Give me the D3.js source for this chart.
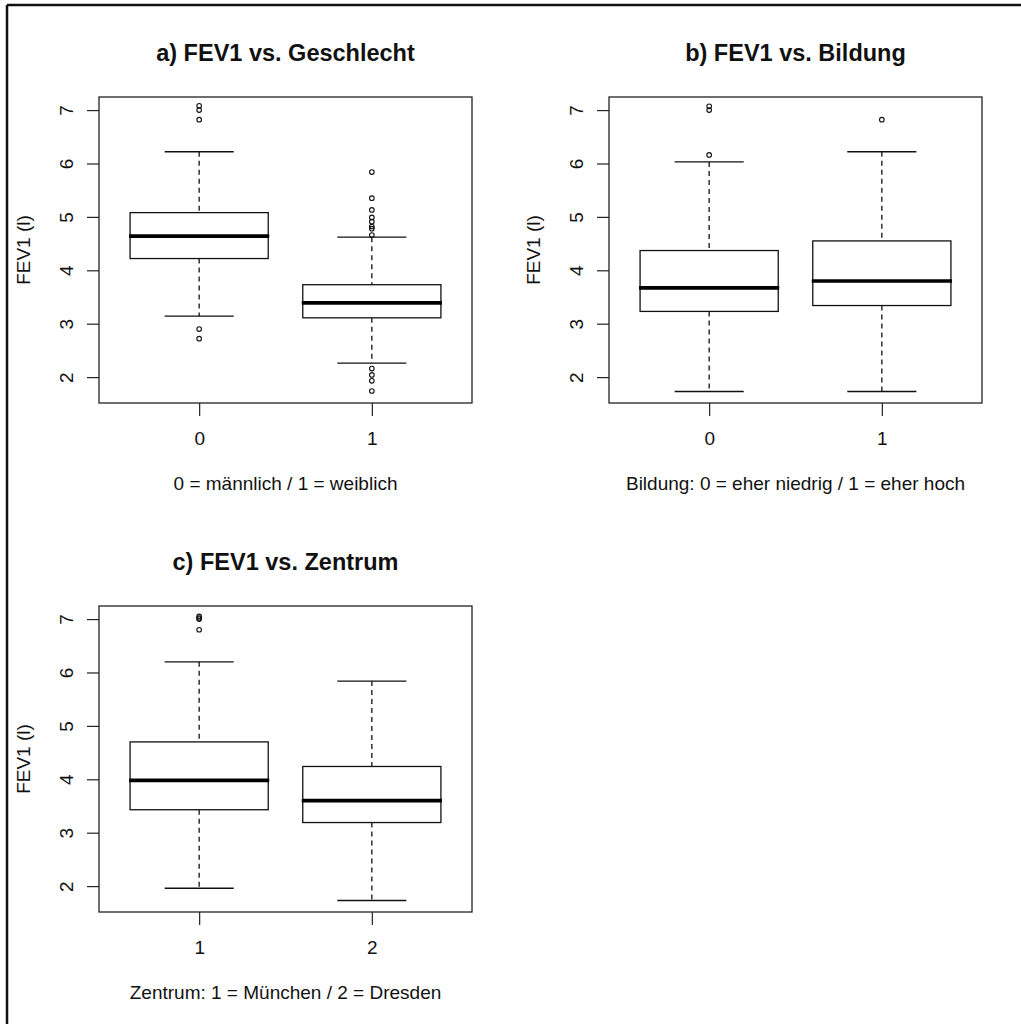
<!DOCTYPE html>
<html>
<head>
<meta charset="utf-8">
<script src="https://cdn.jsdelivr.net/npm/d3@7"></script>
<style>
  body { margin: 0; background: #fff; }
  text { font-family: "Liberation Sans", Arial, sans-serif; fill: #111; }
</style>
</head>
<body>
<svg width="1021" height="1024"></svg>
<script>
// boxplot stats per group: [lower whisker, Q1, median, Q3, upper whisker]
var geschlechtCats = ["0", "1"];
var geschlechtStats = [[3.14, 4.22, 4.64, 5.08, 6.22], [2.26, 3.11, 3.39, 3.73, 4.62]];
var geschlechtOut = [[7.08, 7.0, 6.82, 2.90, 2.72],
                     [5.84, 5.35, 5.13, 4.99, 4.91, 4.82, 4.78, 4.66, 2.16, 2.04, 1.93, 1.74]];

var bildungCats = ["0", "1"];
var bildungStats = [[1.73, 3.23, 3.67, 4.37, 6.03], [1.73, 3.34, 3.80, 4.55, 6.22]];
var bildungOut = [[7.07, 7.0, 6.16], [6.82]];

var zentrumCats = ["1", "2"];
var zentrumStats = [[1.96, 3.43, 3.98, 4.70, 6.20], [1.73, 3.19, 3.60, 4.24, 5.84]];
var zentrumOut = [[7.05, 7.02, 7.0, 6.80], []];

var yTicks = [2, 3, 4, 5, 6, 7];
var yLimits = [1.515, 7.245];

var svg = d3.select("svg");

// outer frame (top + left only)
svg.append("line").attr("x1", 7).attr("y1", 5).attr("x2", 1021).attr("y2", 5)
    .attr("stroke", "#111").attr("stroke-width", 2.5);
svg.append("line").attr("x1", 7).attr("y1", 5).attr("x2", 7).attr("y2", 1024)
    .attr("stroke", "#111").attr("stroke-width", 2.5);

function drawPanel(left, top, title, xTitle, cats, stats, outs) {
  var w = 373, h = 306;
  var g = svg.append("g").attr("transform", "translate(" + left + "," + top + ")");

  var x = d3.scaleLinear().domain([0.42, cats.length + 0.58]).range([0, w]);
  var y = d3.scaleLinear().domain(yLimits).range([h, 0]);
  var boxW = x(0.8) - x(0);

  // title
  g.append("text").attr("x", w / 2).attr("y", -36)
      .attr("text-anchor", "middle").attr("font-weight", "bold").attr("font-size", 23.5)
      .text(title);

  // y axis
  var yAxis = g.append("g").attr("transform", "translate(-12,0)")
      .call(d3.axisLeft(y).tickValues(yTicks).tickSize(0).tickPadding(0).tickFormat(d3.format("d")));
  yAxis.select(".domain").remove();
  yAxis.selectAll("text").remove();
  yAxis.selectAll(".tick").append("line").attr("x1", 0).attr("x2", 12)
      .attr("stroke", "#222").attr("stroke-width", 1.2);
  yAxis.selectAll(".tick").append("text")
      .attr("transform", "translate(-21,0) rotate(-90)")
      .attr("text-anchor", "middle").attr("dy", "0.35em")
      .attr("font-size", 19).attr("fill", "#111")
      .text(function(d) { return d; });

  g.append("text")
      .attr("transform", "translate(-76," + (h / 2) + ") rotate(-90)")
      .attr("text-anchor", "middle").attr("dy", "0.35em").attr("font-size", 19)
      .text("FEV1 (l)");

  // x axis
  var xAxis = g.append("g").attr("transform", "translate(0," + h + ")")
      .call(d3.axisBottom(x).tickValues(d3.range(1, cats.length + 1)).tickSize(13).tickPadding(16)
        .tickFormat(function(d) { return cats[d - 1]; }));
  xAxis.select(".domain").remove();
  xAxis.selectAll("line").attr("stroke", "#222").attr("stroke-width", 1.2);
  xAxis.selectAll("text").attr("font-size", 19).attr("fill", "#111")
      .attr("font-family", "'Liberation Sans', Arial, sans-serif");

  g.append("text").attr("x", w / 2).attr("y", h + 87)
      .attr("text-anchor", "middle").attr("font-size", 19).text(xTitle);

  // boxes
  var grp = g.selectAll(".grp").data(stats).enter().append("g").attr("class", "grp");
  grp.each(function(s, i) {
    var el = d3.select(this), cx = x(i + 1);
    // dashed whiskers
    el.append("line").attr("x1", cx).attr("x2", cx).attr("y1", y(s[4])).attr("y2", y(s[3]))
        .attr("stroke", "#111").attr("stroke-width", 1.3).attr("stroke-dasharray", "5,4");
    el.append("line").attr("x1", cx).attr("x2", cx).attr("y1", y(s[1])).attr("y2", y(s[0]))
        .attr("stroke", "#111").attr("stroke-width", 1.3).attr("stroke-dasharray", "5,4");
    // caps
    [s[0], s[4]].forEach(function(v) {
      el.append("line").attr("x1", cx - boxW / 4).attr("x2", cx + boxW / 4)
          .attr("y1", y(v)).attr("y2", y(v)).attr("stroke", "#111").attr("stroke-width", 1.3);
    });
    el.append("rect").attr("x", cx - boxW / 2).attr("width", boxW)
        .attr("y", y(s[3])).attr("height", y(s[1]) - y(s[3]))
        .attr("fill", "none").attr("stroke", "#111").attr("stroke-width", 1.3);
    el.append("line").attr("x1", cx - boxW / 2 - 1).attr("x2", cx + boxW / 2 + 1)
        .attr("y1", y(s[2])).attr("y2", y(s[2])).attr("stroke", "#000").attr("stroke-width", 3.6);
    el.selectAll("circle").data(outs[i]).enter().append("circle")
        .attr("cx", cx).attr("cy", function(d) { return y(d); }).attr("r", 2.3)
        .attr("fill", "none").attr("stroke", "#111").attr("stroke-width", 1.1);
  });

  // plot frame
  g.append("rect").attr("width", w).attr("height", h)
      .attr("fill", "none").attr("stroke", "#222").attr("stroke-width", 1.3);
}

drawPanel(99, 97, "a) FEV1 vs. Geschlecht", "0 = m\u00e4nnlich / 1 = weiblich",
    geschlechtCats, geschlechtStats, geschlechtOut);
drawPanel(609, 97, "b) FEV1 vs. Bildung", "Bildung: 0 = eher niedrig / 1 = eher hoch",
    bildungCats, bildungStats, bildungOut);
drawPanel(99, 606, "c) FEV1 vs. Zentrum", "Zentrum: 1 = M\u00fcnchen / 2 = Dresden",
    zentrumCats, zentrumStats, zentrumOut);
</script>
</body>
</html>
